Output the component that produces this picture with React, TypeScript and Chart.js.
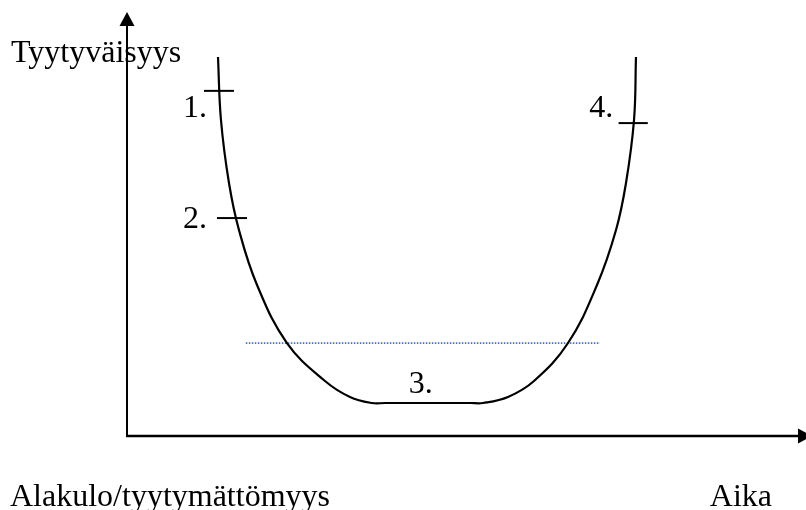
import { useEffect, useRef } from "react";
import { Chart, registerables } from "chart.js";

Chart.register(...registerables);

// U-curve (time on x, satisfaction on y), diagram units 0..100
const curveX = [13.4, 13.84, 15.02, 16.49, 19.15, 23.56, 29.16, 32.84, 36.08, 38.0, 50.52, 52.43, 56.11, 59.94, 64.95, 69.22, 72.02, 73.49, 74.67, 74.96];
const curveY = [89.39, 74.53, 59.67, 48.58, 35.61, 21.93, 12.97, 9.2, 7.78, 7.78, 7.78, 7.78, 9.2, 12.97, 21.93, 35.61, 48.58, 59.67, 74.53, 89.39];

// Short stage markers crossing the curve
const markerStartX = [11.34, 13.25, 72.4];
const markerEndX = [15.76, 17.67, 76.7];
const markerY = [81.4, 51.4, 73.8];

// Dotted reference level
const levelX = [17.5, 69.66];
const levelY = 21.9;

// Stage labels
const stageLabels = ["1.", "2.", "3.", "4."];
const stageLabelX = [11.78, 11.78, 41.5, 71.6];
const stageLabelY = [75.2, 49.1, 10.1, 75.2];
const stageLabelAlign: CanvasTextAlign[] = ["right", "right", "left", "right"];

// Axis texts
const yAxisTitle = "Tyytyväisyys";
const yAxisLowTitle = "Alakulo/tyytymättömyys";
const xAxisTitle = "Aika";

const FONT = "32px 'Liberation Serif', 'Times New Roman', serif";

const diagramPlugin = {
  id: "diagramAxesText",
  afterDatasetsDraw(chart: any) {
    const ctx = chart.ctx as CanvasRenderingContext2D;
    const xs = chart.scales.x;
    const ys = chart.scales.y;
    const x0 = xs.getPixelForValue(0);
    const y0 = ys.getPixelForValue(0);
    const yTop = ys.getPixelForValue(100);
    const xRight = xs.getPixelForValue(100);
    ctx.save();
    ctx.strokeStyle = "#000";
    ctx.fillStyle = "#000";
    ctx.lineWidth = 2;
    // y axis
    ctx.beginPath();
    ctx.moveTo(x0, y0 + 1);
    ctx.lineTo(x0, yTop + 12);
    ctx.stroke();
    ctx.beginPath();
    ctx.moveTo(x0, yTop);
    ctx.lineTo(x0 - 7.5, yTop + 14);
    ctx.lineTo(x0 + 7.5, yTop + 14);
    ctx.closePath();
    ctx.fill();
    // x axis
    ctx.lineWidth = 2.5;
    ctx.beginPath();
    ctx.moveTo(x0 - 1, y0);
    ctx.lineTo(xRight - 6, y0);
    ctx.stroke();
    ctx.beginPath();
    ctx.moveTo(xRight + 6, y0);
    ctx.lineTo(xRight - 8, y0 - 7.5);
    ctx.lineTo(xRight - 8, y0 + 7.5);
    ctx.closePath();
    ctx.fill();

    // texts
    ctx.font = FONT;
    ctx.textBaseline = "alphabetic";
    stageLabels.forEach((t, i) => {
      ctx.textAlign = stageLabelAlign[i];
      ctx.fillText(t, xs.getPixelForValue(stageLabelX[i]), ys.getPixelForValue(stageLabelY[i]));
    });
    ctx.textAlign = "left";
    ctx.fillText(yAxisTitle, 11, 62);
    ctx.fillText(yAxisLowTitle, 10, 506);
    ctx.textAlign = "right";
    ctx.fillText(xAxisTitle, 772, 506);
    ctx.restore();
  },
};

export default function App() {
  const ref = useRef<HTMLCanvasElement | null>(null);
  useEffect(() => {
    document.body.style.margin = "0";
    const canvas = ref.current;
    if (!canvas) return;
    const lineDs = (data: { x: number; y: number }[], extra: any = {}) => ({
      data,
      showLine: true,
      pointRadius: 0,
      borderColor: "#000",
      borderWidth: 2,
      fill: false,
      tension: 0,
      ...extra,
    });
    const datasets: any[] = [
      lineDs(
        curveX.map((x, i) => ({ x, y: curveY[i] })),
        { tension: 0.4, borderWidth: 2.2 }
      ),
      ...markerY.map((y, i) =>
        lineDs([
          { x: markerStartX[i], y },
          { x: markerEndX[i], y },
        ])
      ),
      lineDs(
        levelX.map((x) => ({ x, y: levelY })),
        { borderColor: "#4472c4", borderWidth: 1.6, borderDash: [1.5, 1.5] }
      ),
    ];
    const chart = new Chart(canvas, {
      type: "scatter",
      data: { datasets },
      options: {
        animation: false,
        responsive: false,
        maintainAspectRatio: false,
        layout: { padding: { left: 127, top: 12, right: 0, bottom: 74 } },
        plugins: { legend: { display: false }, tooltip: { enabled: false } },
        scales: {
          x: { type: "linear", min: 0, max: 100, display: false },
          y: { type: "linear", min: 0, max: 100, display: false },
        },
      },
      plugins: [diagramPlugin],
    });
    return () => chart.destroy();
  }, []);
  return <canvas ref={ref} width={806} height={510} style={{ display: "block" }} />;
}
